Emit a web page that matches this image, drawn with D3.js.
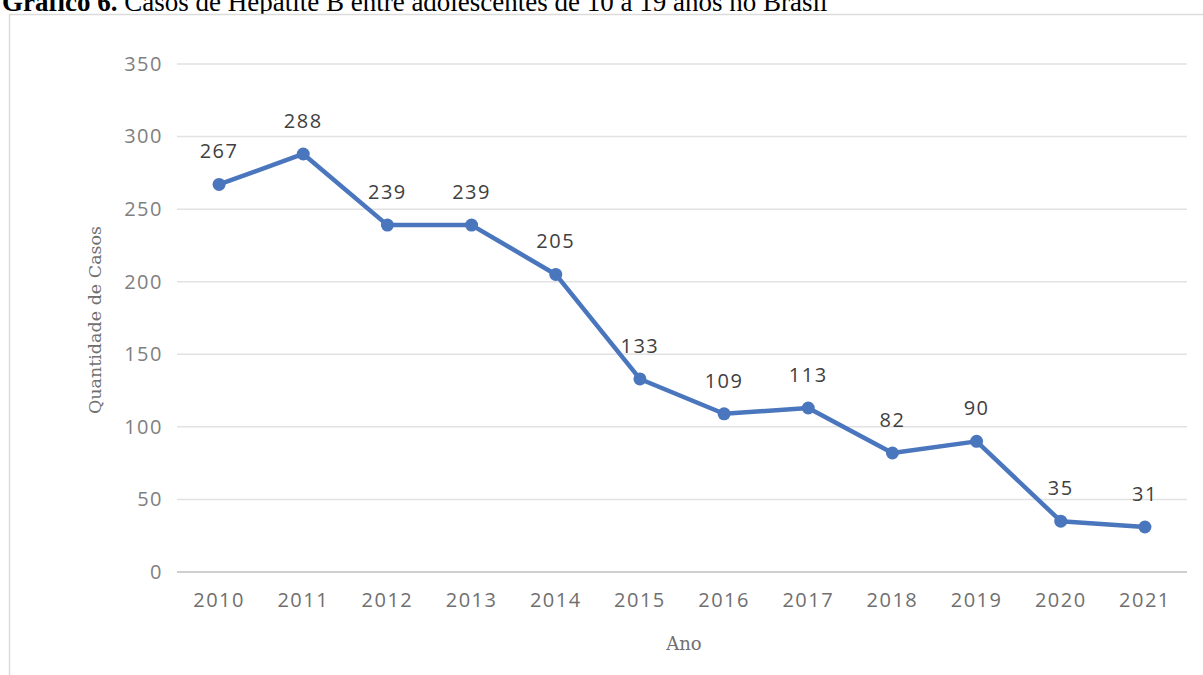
<!DOCTYPE html>
<html>
<head>
<meta charset="utf-8">
<script src="https://cdn.jsdelivr.net/npm/d3@7"></script>
<style>
  body { margin: 0; background: #fff; }
  svg { display: block; }
</style>
</head>
<body>
<svg id="chart" width="1203" height="675"></svg>
<script>
// data
var years = ["2010", "2011", "2012", "2013", "2014", "2015", "2016", "2017", "2018", "2019", "2020", "2021"];
var cases = [267, 288, 239, 239, 205, 133, 109, 113, 82, 90, 35, 31];
var yTicks = [0, 50, 100, 150, 200, 250, 300, 350];

var svg = d3.select("#chart");

// title above the frame, cut at the top
var title = svg.append("text")
  .attr("x", 2)
  .attr("y", 11)
  .style("font-family", "'Liberation Serif', 'Times New Roman', serif")
  .style("font-size", "27px")
  .attr("fill", "#000");
title.append("tspan").style("font-weight", "bold").text("Gráfico 6.");
title.append("tspan").text(" Casos de Hepatite B entre adolescentes de 10 a 19 anos no Brasil");

// chart frame
svg.append("rect")
  .attr("x", 9.5).attr("y", 14.5)
  .attr("width", 1230).attr("height", 700)
  .attr("fill", "#fff")
  .attr("stroke", "#dcdcdc")
  .attr("stroke-width", 1.5);

var plotLeft = 177, plotRight = 1187, plotTop = 64, plotBottom = 572;

var x = d3.scaleBand().domain(years).range([plotLeft, plotRight]);
var y = d3.scaleLinear().domain([0, 350]).range([plotBottom, plotTop]);

var tickFont = "'Open Sans', sans-serif";

// gridlines
svg.append("g")
  .selectAll("line")
  .data(yTicks)
  .enter().append("line")
  .attr("x1", plotLeft).attr("x2", plotRight)
  .attr("y1", function(d){ return y(d); })
  .attr("y2", function(d){ return y(d); })
  .attr("stroke", function(d){ return d == 0 ? "#cfcfcf" : "#e2e2e2"; })
  .attr("stroke-width", function(d){ return d == 0 ? 2 : 1.5; });

// y axis labels
var yAxis = d3.axisLeft(y).tickValues(yTicks).tickSize(0).tickPadding(14);
var gy = svg.append("g")
  .attr("transform", "translate(" + plotLeft + ",0)")
  .call(yAxis);
gy.select(".domain").remove();
gy.selectAll("text")
  .style("font-family", tickFont)
  .style("font-size", "20px")
  .style("letter-spacing", "1.5px")
  .attr("fill", "#7f7f7f");

// x axis labels
var xAxis = d3.axisBottom(x).tickSize(0);
var gx = svg.append("g")
  .attr("transform", "translate(0," + plotBottom + ")")
  .call(xAxis);
gx.select(".domain").remove();
gx.selectAll("text")
  .attr("y", 35)
  .attr("dy", 0)
  .style("font-family", tickFont)
  .style("font-size", "20px")
  .style("letter-spacing", "1.5px")
  .attr("fill", "#6f6f6f");

// axis titles
svg.append("text")
  .attr("x", (plotLeft + plotRight) / 2 + 2)
  .attr("y", 650)
  .attr("text-anchor", "middle")
  .style("font-family", "'DejaVu Serif', serif")
  .style("font-size", "18px")
  .attr("fill", "#6f6f6f")
  .text("Ano");

svg.append("text")
  .attr("transform", "translate(101," + ((plotTop + plotBottom) / 2 + 2) + ") rotate(-90)")
  .attr("text-anchor", "middle")
  .style("font-family", "'DejaVu Serif', serif")
  .style("font-size", "17.5px")
  .attr("fill", "#6f6f6f")
  .text("Quantidade de Casos");

var cx = function(d, i){ return x(years[i]) + x.bandwidth() / 2; };

// line
var line = d3.line()
  .x(function(d, i){ return cx(d, i); })
  .y(function(d){ return y(d); });

svg.append("path")
  .datum(cases)
  .attr("d", line)
  .attr("fill", "none")
  .attr("stroke", "#4a76bd")
  .attr("stroke-width", 4.5)
  .attr("stroke-linejoin", "round");

// markers
svg.append("g")
  .selectAll("circle")
  .data(cases)
  .enter().append("circle")
  .attr("cx", cx)
  .attr("cy", function(d){ return y(d); })
  .attr("r", 6.5)
  .attr("fill", "#4a76bd");

// value labels
svg.append("g")
  .selectAll("text")
  .data(cases)
  .enter().append("text")
  .attr("x", cx)
  .attr("y", function(d){ return y(d) - 26; })
  .attr("text-anchor", "middle")
  .style("font-family", tickFont)
  .style("font-size", "20px")
  .style("letter-spacing", "1.5px")
  .attr("fill", "#404040")
  .text(function(d){ return d; });
</script>
</body>
</html>
